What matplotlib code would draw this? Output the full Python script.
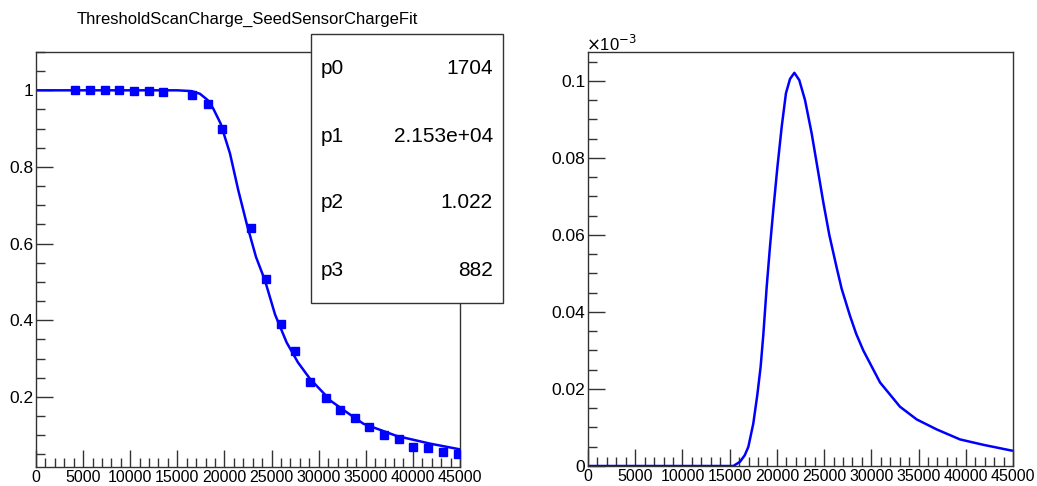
import numpy as np
import matplotlib.pyplot as plt
from matplotlib.patches import Rectangle
from matplotlib.ticker import MultipleLocator

plt.rcParams['font.family'] = ['Liberation Sans', 'DejaVu Sans']

# measured points (left panel)
charge_pts = [4170, 5730, 7290, 8850, 10410, 11970, 13530, 16590, 18220, 19770,
              22850, 24380, 25970, 27540, 29130, 30750, 32230, 33820, 35340,
              36930, 38490, 40040, 41640, 43200, 44790]
eff_pts = [1.0, 1.0, 1.0, 1.0, 0.998, 0.997, 0.995, 0.989, 0.965, 0.898,
           0.64, 0.507, 0.391, 0.321, 0.238, 0.198, 0.165, 0.145, 0.122,
           0.100, 0.089, 0.068, 0.067, 0.056, 0.052]

# fit curve
fit_x = [0, 15000, 16500, 17400, 18200, 18820, 19600, 20590, 21470, 22360,
         23350, 24300, 25370, 26600, 27800, 29080, 30670, 31200, 32970, 34740,
         38280, 41820, 45000]
fit_y = [1.0, 1.0, 0.998, 0.991, 0.975, 0.952, 0.913, 0.835, 0.739, 0.652,
         0.565, 0.504, 0.415, 0.342, 0.29, 0.247, 0.206, 0.191, 0.16, 0.13,
         0.098, 0.078, 0.063]

# derivative curve (right panel), y in units of 1e-3
der_x = [0, 15390, 16090, 16600, 16980, 17500, 17930, 18280, 18560, 18920, 19270,
         19620, 20050, 20510, 20960, 21390, 21850, 22370, 22980, 23680, 24280,
         24920, 25550, 26330, 26860, 27740, 28400, 29150, 30920, 33030, 34800,
         36920, 39390, 41860, 44860]
der_y = [0, 0, 0.0011, 0.0028, 0.005, 0.011, 0.0185, 0.0258, 0.034, 0.0465, 0.057,
         0.0665, 0.0775, 0.0881, 0.0968, 0.1005, 0.1021, 0.1002, 0.0950, 0.0864, 0.0777,
         0.0684, 0.0600, 0.0515, 0.0460, 0.0390, 0.0343, 0.0300, 0.0217, 0.0154, 0.0121,
         0.0095, 0.0069, 0.0055, 0.004]

x_ticks = list(range(0, 45001, 5000))
stat_names = ['p0', 'p1', 'p2', 'p3']
stat_vals = ['1704', '2.153e+04', '1.022', '882']

W, H = 1037, 486
fig = plt.figure(figsize=(W / 100, H / 100), dpi=100)

def style(ax):
    for s in ax.spines.values():
        s.set_color('#333333')
        s.set_linewidth(1.0)
    ax.set_xlim(0, 45000)
    ax.set_xticks(x_ticks)
    ax.set_xticklabels([str(v) for v in x_ticks])
    ax.xaxis.set_minor_locator(MultipleLocator(1000))
    ax.tick_params(which='both', direction='in', top=False, right=False,
                   color='#333333', width=1.0)
    ax.tick_params(which='major', length=12)
    ax.tick_params(which='minor', length=6.5)
    ax.tick_params(axis='x', labelsize=11.5, pad=2)
    ax.tick_params(axis='y', labelsize=12.5, pad=2)

ax1 = fig.add_axes([36 / W, 1 - 467 / H, 424 / W, 415 / H])
style(ax1)
ax1.plot(fit_x, fit_y, color='#0000ff', lw=1.8, zorder=2)
ax1.plot(charge_pts, eff_pts, 's', color='#0000ff', ms=5.8, zorder=3)
ax1.set_ylim(0.017, 1.1)
ax1.yaxis.set_minor_locator(MultipleLocator(0.05))
ax1.set_yticks([0.2, 0.4, 0.6, 0.8, 1.0])
ax1.set_yticklabels(['0.2', '0.4', '0.6', '0.8', '1'])

fig.text(247 / W, 1 - 19 / H, 'ThresholdScanCharge_SeedSensorChargeFit',
         ha='center', va='center', fontsize=12)

# stats box
bx0, by0, bx1, by1 = 311, 34, 503, 303
fig.patches.append(Rectangle((bx0 / W, 1 - by1 / H), (bx1 - bx0) / W, (by1 - by0) / H,
                             transform=fig.transFigure, facecolor='white',
                             edgecolor='#333333', lw=1.0, zorder=10))
rows_y = [68, 136, 203, 270]
for name, val, ry in zip(stat_names, stat_vals, rows_y):
    fig.text(321 / W, 1 - ry / H, name, ha='left', va='center', fontsize=15, zorder=11)
    fig.text(493 / W, 1 - ry / H, val, ha='right', va='center', fontsize=15, zorder=11)

ax2 = fig.add_axes([588 / W, 1 - 466 / H, 425 / W, 414 / H])
style(ax2)
ax2.plot(der_x, der_y, color='#0000ff', lw=1.8)
ax2.set_ylim(0, 0.1075)
ax2.yaxis.set_minor_locator(MultipleLocator(0.005))
ax2.set_yticks([0, 0.02, 0.04, 0.06, 0.08, 0.1])
ax2.set_yticklabels(['0', '0.02', '0.04', '0.06', '0.08', '0.1'])
fig.text(586 / W, 1 - 44 / H, r'$\times$10$^{-3}$', ha='left', va='center', fontsize=12)

fig.savefig('out.png', dpi=100)
